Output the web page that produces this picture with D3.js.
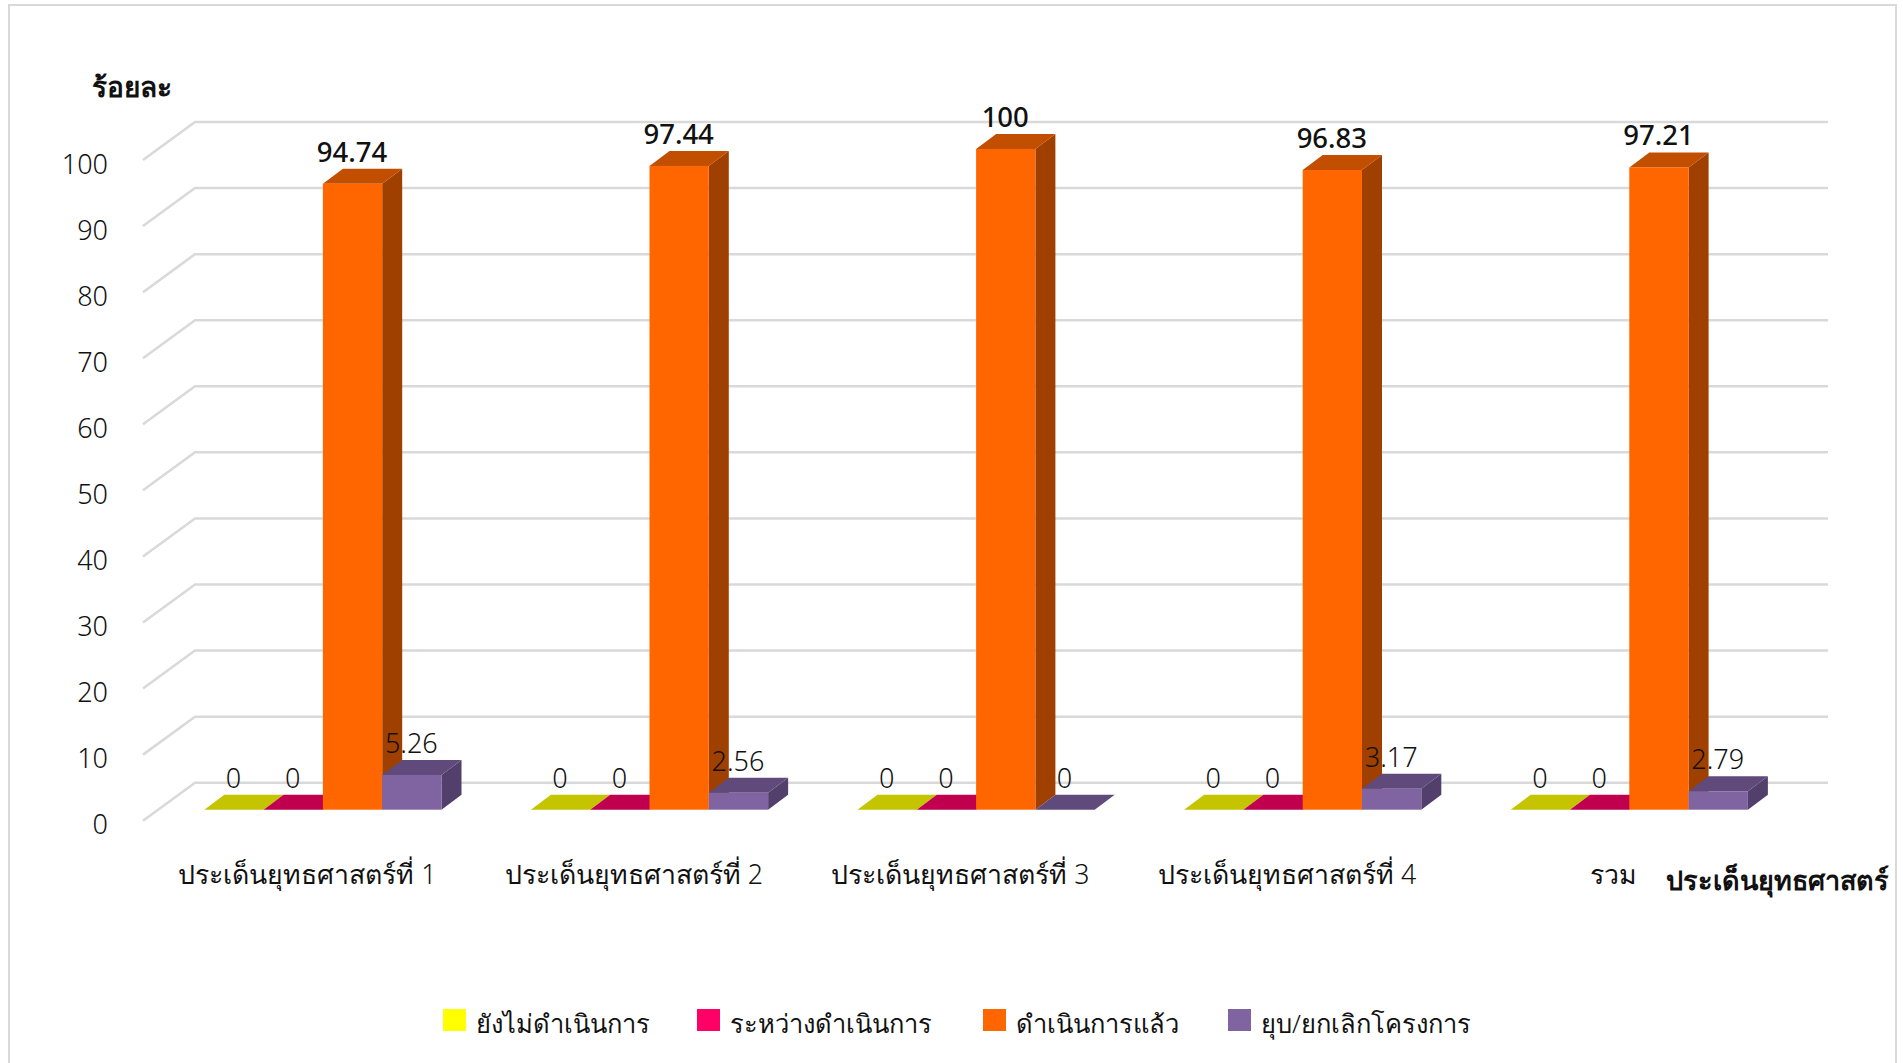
<!DOCTYPE html>
<html lang="th">
<head>
<meta charset="utf-8">
<script src="https://cdn.jsdelivr.net/npm/d3@7"></script>
<style>
  html, body { margin: 0; padding: 0; background: #fff; }
  svg { display: block; }
  text { font-family: "Noto Sans", "Open Sans", sans-serif; fill: #111; }
</style>
</head>
<body>
<div id="chart"></div>
<script>
// ข้อมูล
var categories = ["ประเด็นยุทธศาสตร์ที่ 1", "ประเด็นยุทธศาสตร์ที่ 2", "ประเด็นยุทธศาสตร์ที่ 3", "ประเด็นยุทธศาสตร์ที่ 4", "รวม"];
var seriesNames = ["ยังไม่ดำเนินการ", "ระหว่างดำเนินการ", "ดำเนินการแล้ว", "ยุบ/ยกเลิกโครงการ"];
var notStarted = [0, 0, 0, 0, 0];
var inProgress = [0, 0, 0, 0, 0];
var done = [94.74, 97.44, 100, 96.83, 97.21];
var cancelled = [5.26, 2.56, 0, 3.17, 2.79];
var yTicks = [0, 10, 20, 30, 40, 50, 60, 70, 80, 90, 100];

// สีของแต่ละชุด: หน้า / บน / ข้าง
var frontColors = ["#ffff00", "#ff0066", "#ff6600", "#8064a2"];
var topColors = ["#c4c400", "#c0004f", "#c24e00", "#604a7b"];
var sideColors = ["#a3a300", "#a00042", "#a04000", "#533f6b"];

var width = 1903, height = 1063;
var allValues = [notStarted, inProgress, done, cancelled];

var svg = d3.select("#chart").append("svg")
    .attr("width", width)
    .attr("height", height);

// กรอบ
svg.append("path")
    .attr("d", "M9,1063V5H1896V1063")
    .attr("fill", "none")
    .attr("stroke", "#d9d9d9")
    .attr("stroke-width", 2);

// สเกล (ระนาบหน้าของกล่อง 3 มิติ)
var x = d3.scaleBand().domain(d3.range(categories.length)).range([143, 1776]);
var y = d3.scaleLinear().domain([0, 100]).range([820.7, 160]);
var depthX = 52, depthY = 38;       // ความลึกของพื้น
var barDx = 16.6, barDy = 11;       // ระยะจากขอบหน้าถึงหน้าแท่ง
var sideDx = 20, sideDy = 15;       // ความลึกของแท่ง
var barW = 59.3;

// เส้นกริด
svg.append("g").selectAll("path")
    .data(yTicks)
    .enter()
    .append("path")
    .attr("d", function (d) {
        return "M" + x.range()[0] + "," + y(d) +
            "L" + (x.range()[0] + depthX) + "," + (y(d) - depthY) +
            "L" + (x.range()[1] + depthX) + "," + (y(d) - depthY);
    })
    .attr("fill", "none")
    .attr("stroke", "#d9d9d9")
    .attr("stroke-width", 2.5);

// แท่ง
var bars = [];
categories.forEach(function (c, i) {
    allValues.forEach(function (vals, s) {
        var cx = x(i) + x.bandwidth() / 2 + barDx + (s - 2) * barW;
        bars.push({ x0: cx, x1: cx + barW, yTop: y(vals[i]) - barDy, yBase: y(0) - barDy, s: s, v: vals[i] });
    });
});

var barG = svg.append("g").selectAll("g")
    .data(bars)
    .enter()
    .append("g");

barG.append("path")
    .attr("fill", function (d) { return sideColors[d.s]; })
    .attr("d", function (d) {
        return "M" + d.x1 + "," + d.yBase + "L" + (d.x1 + sideDx) + "," + (d.yBase - sideDy) +
            "L" + (d.x1 + sideDx) + "," + (d.yTop - sideDy) + "L" + d.x1 + "," + d.yTop + "Z";
    });
barG.append("path")
    .attr("fill", function (d) { return topColors[d.s]; })
    .attr("d", function (d) {
        return "M" + d.x0 + "," + d.yTop + "L" + (d.x0 + sideDx) + "," + (d.yTop - sideDy) +
            "L" + (d.x1 + sideDx) + "," + (d.yTop - sideDy) + "L" + d.x1 + "," + d.yTop + "Z";
    });
barG.append("rect")
    .attr("x", function (d) { return d.x0; })
    .attr("y", function (d) { return d.yTop; })
    .attr("width", barW)
    .attr("height", function (d) { return d.yBase - d.yTop; })
    .attr("fill", function (d) { return frontColors[d.s]; });

// ป้ายค่า
svg.append("g").selectAll("text")
    .data(bars)
    .enter()
    .append("text")
    .attr("x", function (d) { return d.x0 + barW / 2 - 0.5; })
    .attr("y", function (d) { return d.yTop - sideDy - 7; })
    .attr("text-anchor", "middle")
    .attr("font-size", function (d) { return d.s === 2 ? 27.5 : 27; })
    .attr("font-weight", function (d) { return d.s === 2 ? 500 : 300; })
    .text(function (d) { return d.v; });

// แกน y
var yAxis = svg.append("g")
    .attr("transform", "translate(108,0)")
    .call(d3.axisLeft(y).tickValues(yTicks).tickSize(0).tickPadding(0));
yAxis.select(".domain").remove();
yAxis.selectAll("text")
    .attr("font-size", 27)
    .attr("font-weight", 300)
    .attr("dy", 13);

// แกน x
var xAxis = svg.append("g")
    .attr("transform", "translate(1,884)")
    .call(d3.axisBottom(x).tickFormat(function (i) { return categories[i]; }).tickSize(0).tickPadding(0));
xAxis.select(".domain").remove();
xAxis.selectAll("text")
    .attr("font-size", 26.7)
    .attr("font-weight", 300)
    .attr("y", 0)
    .attr("dy", 0);

// ชื่อแกน
svg.append("text").attr("x", 92).attr("y", 97).attr("font-size", 28).attr("font-weight", 600).attr("fill", "#000").text("ร้อยละ");
svg.append("text").attr("x", 1666).attr("y", 890).attr("font-size", 27).attr("font-weight", 600).attr("fill", "#000").text("ประเด็นยุทธศาสตร์");

// คำอธิบาย
var legendX = [443, 697, 983, 1228];
var legend = svg.append("g").selectAll("g")
    .data(seriesNames)
    .enter()
    .append("g")
    .attr("transform", function (d, i) { return "translate(" + legendX[i] + ",1009)"; });
legend.append("rect")
    .attr("width", 23)
    .attr("height", 22)
    .attr("fill", function (d, i) { return frontColors[i]; });
legend.append("text")
    .attr("x", 33)
    .attr("y", 24)
    .attr("font-size", 25.5)
    .attr("font-weight", 300)
    .text(function (d) { return d; });
</script>
</body>
</html>
